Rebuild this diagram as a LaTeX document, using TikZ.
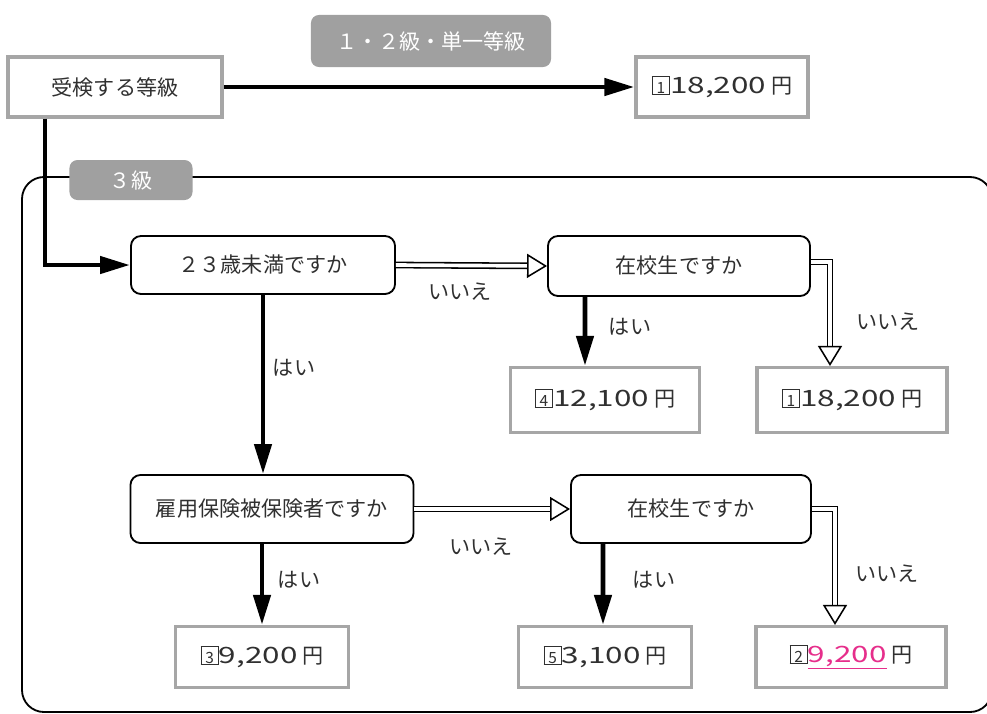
\documentclass[tikz,border=0pt]{standalone}
\usepackage{fontspec}
\setmainfont{Noto Sans CJK JP}
\newfontfamily\kinfont[FakeStretch=1.4]{Noto Sans CJK JP}
\usetikzlibrary{arrows.meta}
\definecolor{wakugray}{HTML}{A6A6A6}
\definecolor{tabgray}{HTML}{A0A0A0}
\definecolor{mojigray}{HTML}{303030}
\definecolor{kinpink}{HTML}{E62E8B}
\newcommand{\nbox}[1]{{\setlength{\fboxsep}{0pt}\setlength{\fboxrule}{0.5pt}\fbox{\rule[-0.5pt]{0pt}{12.5pt}\makebox[12pt]{\fontsize{11}{11}\selectfont #1}}}}
\newcommand{\kin}[1]{{\kinfont\fontsize{16}{18}\selectfont #1}}

\begin{document}
\begin{tikzpicture}[x=0.025cm,y=-0.025cm,
  font=\fontsize{15}{18}\selectfont,text=mojigray,
  price/.style={draw=wakugray,line width=2.2pt,fill=white,minimum height=1.5cm},
  tab/.style={fill=tabgray,text=white,rounded corners=0.2cm,inner sep=0pt},
  ask/.style={draw=black,line width=1.3pt,rounded corners=0.25cm,fill=white,inner sep=0pt},
  frame/.style={draw=black,line width=1.3pt,rounded corners=0.55cm},
  yes/.style={line width=3.5pt,-{Triangle[length=0.75cm,width=0.42cm]}},
  no/.style={double,double distance=2.6pt,line width=1.1pt,-{Triangle[length=0.5cm,width=0.6cm,fill=white,line width=1.1pt]}}]
\useasboundingbox (0,0) rectangle (987,713);
\draw[frame] (22,177) rectangle (992,712);
\node[price,minimum width=5.35cm] (start) at (115,87) {受検する等級};
\node[tab,minimum width=6cm,minimum height=1.3cm] (tab12) at (431,41) {１・２級・単一等級};
\node[price,minimum width=4.3cm] (p1) at (722,87) {\nbox{1}\kin{18,200} 円};
\node[tab,minimum width=3.075cm,minimum height=1cm] (tab3) at (131,180) {３級};
\node[ask,minimum width=6.6cm,minimum height=1.45cm] (q1) at (263,265) {２３歳未満ですか};
\node[ask,minimum width=6.55cm,minimum height=1.5cm] (q2) at (679,266) {在校生ですか};
\node[price,minimum width=4.725cm,minimum height=1.625cm] (p4) at (605,400) {\nbox{4}\kin{12,100} 円};
\node[price,minimum width=4.75cm,minimum height=1.625cm] (p1b) at (852,400) {\nbox{1}\kin{18,200} 円};
\node[ask,minimum width=7.075cm,minimum height=1.7cm] (q3) at (272,509) {雇用保険被保険者ですか};
\node[ask,minimum width=6cm,minimum height=1.7cm] (q4) at (691,509) {在校生ですか};
\node[price,minimum width=4.325cm,minimum height=1.525cm] (p3) at (262,657) {\nbox{3}\kin{9,200} 円};
\node[price,minimum width=4.325cm,minimum height=1.525cm] (p5) at (605,657) {\nbox{5}\kin{3,100} 円};
\node[price,minimum width=4.75cm,minimum height=1.525cm] (p2) at (851,657) {\nbox{2}\textcolor{kinpink}{\underline{\kin{9,200}}} 円};
\draw[yes] (start.east) -- (p1.west);
\draw[yes] ([xshift=-1.75cm]start.south) |- (q1.west);
\draw[no] (q1.east) -- (q2.west);
\draw[yes] ([xshift=-2.35cm]q2.south) -- ([xshift=-0.5cm]p4.north);
\draw[no] ([yshift=0.1cm]q2.east) -| ([xshift=-0.55cm]p1b.north);
\draw[yes] (q1.south) -- (q1.south |- q3.north);
\draw[no] (q3.east) -- (q4.west);
\draw[no] (q4.east) -| ([xshift=-0.4cm]p2.north);
\draw[yes] (p3.north |- q3.south) -- (p3.north);
\draw[yes] ([xshift=-2.2cm]q4.south) -- ([xshift=-0.05cm]p5.north);
\node (no1) at (460,292) {いいえ};
\node (yes1) at (630,327) {はい};
\node (no2) at (888,322) {いいえ};
\node (yes2) at (294,368) {はい};
\node (no3) at (481,547) {いいえ};
\node (yes3) at (299,580) {はい};
\node (yes4) at (654,580) {はい};
\node (no4) at (887,574) {いいえ};
\end{tikzpicture}
\end{document}
